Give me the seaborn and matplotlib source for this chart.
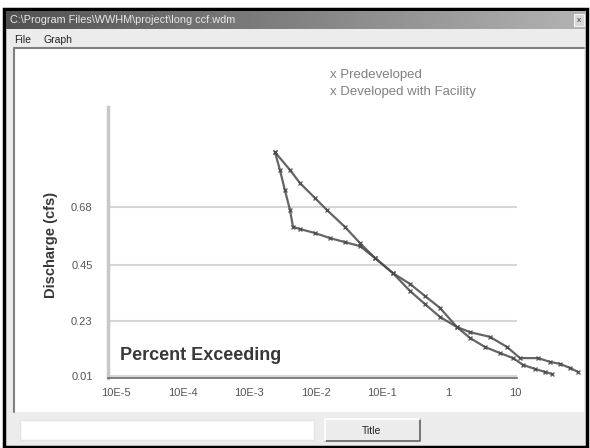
import numpy as np
import pandas as pd
import seaborn as sns
import matplotlib.pyplot as plt
from matplotlib.patches import Rectangle

# values (percent exceeding, discharge cfs)
pct_pre = [0.00246, 0.00292, 0.00347, 0.00414, 0.00459, 0.00585, 0.00982, 0.0165, 0.0278,
           0.0467, 0.0785, 0.146, 0.264, 0.444, 0.745, 1.34, 2.10, 4.21, 7.59, 11.9,
           22.2, 33.6, 47.5, 67.1, 88.5]
q_pre = [0.898, 0.827, 0.747, 0.668, 0.601, 0.593, 0.577, 0.557, 0.541,
         0.525, 0.478, 0.418, 0.347, 0.295, 0.244, 0.204, 0.184, 0.165, 0.125, 0.081,
         0.081, 0.066, 0.058, 0.042, 0.026]
pct_dev = [0.00246, 0.00414, 0.00585, 0.00982, 0.0149, 0.0278, 0.0467, 0.0785, 0.146,
           0.264, 0.444, 0.745, 1.34, 2.10, 3.54, 5.94, 9.33, 13.2, 20.0, 28.3, 36.0]
q_dev = [0.898, 0.827, 0.775, 0.716, 0.668, 0.601, 0.537, 0.478, 0.418,
         0.375, 0.327, 0.280, 0.204, 0.161, 0.125, 0.101, 0.081, 0.054, 0.038, 0.026, 0.018]
series_names = ["Predeveloped", "Developed with Facility"]
y_ticks = [0.01, 0.23, 0.45, 0.68]
y_ticklabels = ["0.01", "0.23", "0.45", "0.68"]
x_ticks = [1e-5, 1e-4, 1e-3, 1e-2, 1e-1, 1, 10]
x_ticklabels = ["10E-5", "10E-4", "10E-3", "10E-2", "10E-1", "1", "10"]

df = pd.concat([
    pd.DataFrame({"pct": pct_pre, "q": q_pre, "series": series_names[0]}),
    pd.DataFrame({"pct": pct_dev, "q": q_dev, "series": series_names[1]}),
])

sns.set_style("white")
plt.rcParams["font.family"] = ["Liberation Sans", "DejaVu Sans"]

W, H = 590, 448
fig = plt.figure(figsize=(W / 100, H / 100), dpi=100)

# window chrome drawn in pixel coordinates
bg = fig.add_axes([0, 0, 1, 1])
bg.add_patch(Rectangle((4, 9), 583, 438, facecolor="#ececec", edgecolor="black", lw=2.5))
grad = np.linspace(0.32, 0.70, 256).reshape(1, -1)
bg.imshow(grad, cmap="gray", vmin=0, vmax=1, extent=(6, 586, 29, 11), aspect="auto",
          zorder=2)
bg.set_xlim(0, W)
bg.set_ylim(H, 0)
bg.axis("off")
bg.text(10, 20, r"C:\Program Files\WWHM\project\long ccf.wdm", color="#e8e8e8",
        fontsize=7.8, va="center", zorder=3)
bg.add_patch(Rectangle((574, 14), 10, 12, facecolor="#d8d8d8", edgecolor="#f4f4f4", lw=0.8,
                       zorder=3))
bg.text(579, 20.5, "x", fontsize=6, ha="center", va="center", color="#333333", zorder=4)
bg.text(14, 40, "File", fontsize=7.5, va="center", color="#222222")
bg.text(44, 40, "Graph", fontsize=7.5, va="center", color="#222222")
bg.add_patch(Rectangle((14, 48), 570, 364, facecolor="white", edgecolor="none"))
bg.plot([14, 584], [48, 48], color="#808080", lw=1.5)
bg.plot([14, 14], [48, 412], color="#808080", lw=1.5)
bg.add_patch(Rectangle((20, 420), 294, 20, facecolor="white", edgecolor="#e4e4e4", lw=1))
bg.add_patch(Rectangle((325, 419), 95, 22, facecolor="#ececec", edgecolor="none"))
bg.plot([325, 420, 420], [441, 441, 419], color="#606060", lw=1.2)
bg.plot([325, 325, 420], [441, 419, 419], color="#ffffff", lw=1.2)
bg.text(372, 430.5, "Title", fontsize=7.5, ha="center", va="center", color="#222222")

# chart axes
ax = fig.add_axes([108 / W, (H - 378) / H, 409 / W, 271 / H])
ax.set_facecolor("none")
sns.lineplot(data=df, x="pct", y="q", hue="series", palette=["#4a4a4a", "#4a4a4a"],
             sort=False, estimator=None, marker="x", markersize=3.5, markeredgewidth=1.0,
             markeredgecolor="#4a4a4a", lw=1.6, legend=False, ax=ax)
for ln in ax.lines:
    ln.set_clip_on(False)
    ln.set_alpha(0.85)

ax.set_xscale("log")
ax.set_xlim(10 ** -5.12, 10 ** 1.03)
ax.set_ylim(0.002, 1.077)
ax.set_xticks(x_ticks)
ax.set_xticklabels(x_ticklabels)
ax.set_yticks(y_ticks)
ax.set_yticklabels(y_ticklabels)
ax.tick_params(axis="x", which="major", direction="in", length=3, width=0.8,
               color="#707070", labelsize=8, labelcolor="#555555", pad=7)
ax.tick_params(axis="x", which="minor", direction="in", length=1.5, width=0.6, color="#707070")
ax.tick_params(axis="y", length=0, labelsize=8, labelcolor="#555555", pad=11)
ax.yaxis.grid(True, color="#d6d6d6", lw=1.5)
ax.set_axisbelow(True)
for s in ["top", "right"]:
    ax.spines[s].set_visible(False)
ax.spines["left"].set_color("#c8c8c8")
ax.spines["left"].set_linewidth(2.5)
ax.spines["bottom"].set_color("#6a6a6a")
ax.spines["bottom"].set_linewidth(1.2)
ax.set_xlabel("")
ax.set_ylabel("")

bg.text(120, 356, "Percent Exceeding", fontsize=13, fontweight="bold", color="#383838",
        va="center")
bg.text(51, 245, "Discharge (cfs)", fontsize=10.5, fontweight="bold", color="#383838",
        rotation=90, ha="center", va="center")
bg.text(330, 75, "x " + series_names[0], fontsize=9.5, color="#808080", va="center")
bg.text(330, 92, "x " + series_names[1], fontsize=9.5, color="#808080", va="center")

fig.savefig("out.png", dpi=100)
